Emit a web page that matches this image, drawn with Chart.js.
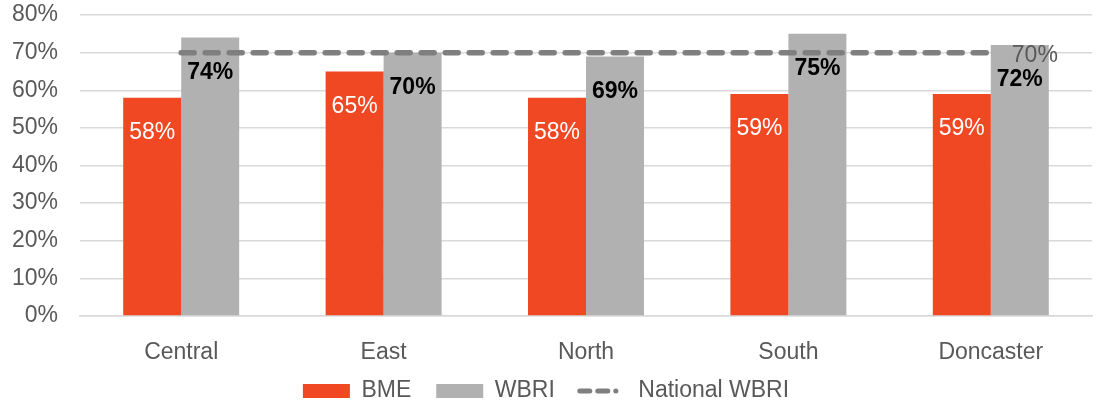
<!DOCTYPE html>
<html>
<head>
<meta charset="utf-8">
<script src="https://cdn.jsdelivr.net/npm/chart.js@4"></script>
<style>
  html, body { margin: 0; padding: 0; background: #fff; }
  #wrap { width: 1097px; height: 404px; }
</style>
</head>
<body>
<div id="wrap"><canvas id="chart"></canvas></div>
<script>
  // ── Data ────────────────────────────────────────────────────────────────
  var categories   = ['Central', 'East', 'North', 'South', 'Doncaster'];
  var bmeValues    = [58, 65, 58, 59, 59];
  var wbriValues   = [74, 70, 69, 75, 72];
  var nationalWbri = [70, 70, 70, 70, 70];
  var yTicks       = [0, 10, 20, 30, 40, 50, 60, 70, 80];

  var FONT = '"Liberation Sans", Arial, sans-serif';
  var FS   = 23;
  var LEGEND_PAD = 25;

  // Labels inside the top of each bar, plus the end label of the dashed line
  var valueLabels = {
    id: 'valueLabels',
    afterDatasetsDraw: function (chart) {
      var ctx = chart.ctx;
      ctx.save();
      ctx.textAlign = 'center';
      ctx.textBaseline = 'middle';

      chart.getDatasetMeta(0).data.forEach(function (bar, i) {
        ctx.font = FS + 'px ' + FONT;
        ctx.fillStyle = '#ffffff';
        ctx.fillText(bmeValues[i] + '%', bar.x, bar.y + 35);
      });
      chart.getDatasetMeta(1).data.forEach(function (bar, i) {
        ctx.font = 'bold ' + FS + 'px ' + FONT;
        ctx.fillStyle = '#000000';
        ctx.fillText(wbriValues[i] + '%', bar.x, bar.y + 35);
      });

      var pts = chart.getDatasetMeta(2).data;
      var last = pts[pts.length - 1];
      ctx.font = FS + 'px ' + FONT;
      ctx.fillStyle = '#595959';
      ctx.textAlign = 'left';
      ctx.fillText(nationalWbri[nationalWbri.length - 1] + '%', last.x + 21, last.y + 3);
      ctx.restore();
    }
  };

  // Fix the legend box height, then lift it so its row sits where the original does
  var legendPlace = {
    id: 'legendPlace',
    beforeLayout: function (chart) {
      var lg = chart.legend;
      if (!lg || lg._fixedFit) return;
      var orig = lg.fit;
      lg.fit = function () { orig.call(this); this.height = 40; };
      lg._fixedFit = true;
    },
    afterLayout: function (chart) {
      var lg = chart.legend;
      lg.top = 391 - LEGEND_PAD - FS / 2;
      lg.bottom = chart.height;
    }
  };

  new Chart(document.getElementById('chart'), {
    type: 'bar',
    data: {
      labels: categories,
      datasets: [
        { label: 'BME',  data: bmeValues,  backgroundColor: '#EF4823', order: 1,
          categoryPercentage: 0.573, barPercentage: 1.0 },
        { label: 'WBRI', data: wbriValues, backgroundColor: '#B1B1B1', order: 1,
          categoryPercentage: 0.573, barPercentage: 1.0 },
        { type: 'line', label: 'National WBRI', data: nationalWbri, order: -1,
          borderColor: '#7F7F7F', backgroundColor: '#7F7F7F', borderWidth: 5.5,
          borderDash: [13, 11], borderCapStyle: 'round',
          pointRadius: 0, pointStyle: 'line', fill: false }
      ]
    },
    options: {
      responsive: true,
      maintainAspectRatio: false,
      animation: false,
      layout: { padding: { top: 0, right: 5, left: 0, bottom: 0 } },
      plugins: {
        tooltip: { enabled: false },
        legend: {
          position: 'bottom',
          labels: {
            usePointStyle: true,
            pointStyleWidth: 47,
            boxHeight: 14,
            padding: LEGEND_PAD,
            color: '#595959',
            font: { family: FONT, size: FS },
            sort: function (a, b) { return a.datasetIndex - b.datasetIndex; },
            generateLabels: function (chart) {
              var items = Chart.defaults.plugins.legend.labels.generateLabels(chart);
              items.forEach(function (it) {
                if (it.datasetIndex < 2) { it.pointStyle = 'rect'; it.lineWidth = 0; it.strokeStyle = 'rgba(0,0,0,0)'; }
                else { it.pointStyle = 'line'; it.lineWidth = 5; it.lineDash = [10, 8, 10, 8, 0.1, 30]; it.lineCap = 'round'; }
              });
              return items;
            }
          }
        }
      },
      scales: {
        x: {
          afterFit: function (scale) { scale.height = 48; },
          grid: { display: false },
          border: { color: '#D9D9D9', width: 1.5 },
          ticks: { color: '#595959', font: { family: FONT, size: FS }, padding: 15 }
        },
        y: {
          min: 0, max: 80,
          afterBuildTicks: function (scale) {
            scale.ticks = yTicks.map(function (v) { return { value: v }; });
          },
          afterFit: function (scale) {
            scale.width = 80;
            scale.paddingTop = 15;
            scale.paddingBottom = 0;
          },
          grid: { color: '#D9D9D9', lineWidth: 1.5, drawTicks: false },
          border: { display: false },
          ticks: {
            color: '#595959', padding: 22,
            font: { family: FONT, size: FS },
            callback: function (v) { return v + '%'; }
          }
        }
      }
    },
    plugins: [valueLabels, legendPlace]
  });
</script>
</body>
</html>
